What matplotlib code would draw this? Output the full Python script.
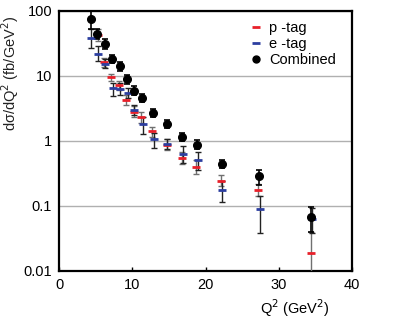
import matplotlib
matplotlib.use("Agg")
import matplotlib.pyplot as plt
from matplotlib.lines import Line2D

plt.rcParams['font.family'] = ['Liberation Sans', 'DejaVu Sans']

# p -tag (red)
p_q2 = [5.3, 6.2, 7.1, 8.2, 9.2, 10.25, 11.2, 12.7, 14.8, 16.8, 18.7, 22.1, 27.1, 34.4]
p_val = [42, 16.2, 9.4, 7.1, 4.3, 2.8, 2.3, 1.39, 0.87, 0.547, 0.40, 0.245, 0.176, 0.019]
p_lo = [34, 13.5, 8.2, 6.0, 3.6, 2.3, 1.9, 1.15, 0.72, 0.44, 0.31, 0.20, 0.14, 0.005]
p_hi = [53, 19, 10.7, 8.3, 5.1, 3.4, 2.8, 1.65, 1.05, 0.68, 0.50, 0.30, 0.22, 0.04]

# e -tag (blue)
e_q2 = [4.3, 5.35, 6.3, 7.35, 8.3, 9.4, 10.3, 11.5, 13.0, 14.8, 16.9, 19.0, 22.3, 27.4, 34.5]
e_val = [38, 21.8, 15.3, 6.5, 6.2, 5.5, 3.0, 1.83, 1.07, 0.90, 0.616, 0.505, 0.176, 0.091, 0.062]
e_lo = [26.8, 17, 13, 4.8, 5.1, 4.6, 2.5, 1.28, 0.77, 0.75, 0.45, 0.36, 0.114, 0.039, 0.038]
e_hi = [52.6, 28.2, 18, 7.7, 7.7, 6.5, 3.5, 2.31, 1.31, 1.08, 0.82, 0.68, 0.24, 0.14, 0.093]

# combined (black)
c_q2 = [4.3, 5.25, 6.26, 7.3, 8.3, 9.33, 10.3, 11.3, 12.8, 14.8, 16.85, 18.85, 22.2, 27.3, 34.45]
c_val = [75, 44, 31, 18.3, 14.1, 8.8, 5.9, 4.5, 2.7, 1.78, 1.14, 0.87, 0.44, 0.286, 0.067]
c_lo = [52.6, 36, 26, 15.5, 12, 7.5, 5.0, 3.9, 2.35, 1.55, 0.98, 0.74, 0.38, 0.21, 0.04]
c_hi = [120, 53, 37, 21, 16.5, 10.3, 6.9, 5.2, 3.1, 2.05, 1.33, 1.02, 0.50, 0.35, 0.097]


def errs(val, lo, hi):
    return [[v - l for v, l in zip(val, lo)], [h - v for v, h in zip(val, hi)]]


fig = plt.figure(figsize=(4.09, 3.18), dpi=100)
ax = fig.add_axes([0.1443, 0.1478, 0.7163, 0.819])

ax.errorbar(p_q2, p_val, yerr=errs(p_val, p_lo, p_hi), fmt='none',
            ecolor='#707070', elinewidth=1.0, capsize=2, capthick=1.0, zorder=3)
ax.errorbar(e_q2, e_val, yerr=errs(e_val, e_lo, e_hi), fmt='none',
            ecolor='#222222', elinewidth=1.0, capsize=2, capthick=1.0, zorder=3)
ax.errorbar(c_q2, c_val, yerr=errs(c_val, c_lo, c_hi), fmt='none',
            ecolor='black', elinewidth=1.2, capsize=2, capthick=1.2, zorder=4)

ax.plot(p_q2, p_val, ls='none', marker='_', ms=6, mew=2, color='#e8202a', zorder=5)
ax.plot(e_q2, e_val, ls='none', marker='_', ms=6, mew=2, color='#2c3ea0', zorder=5)
ax.plot(c_q2, c_val, ls='none', marker='o', ms=5.5, color='black', zorder=6)

ax.set_yscale('log')
ax.set_ylim(0.01, 100)
ax.set_xlim(0, 40)
ax.set_xticks([0, 10, 20, 30, 40])
ax.set_yticks([0.01, 0.1, 1, 10, 100])
ax.set_yticklabels(['0.01', '0.1', '1', '10', '100'])
ax.minorticks_off()
ax.tick_params(axis='x', direction='in', length=3, width=1, labelsize=10.5, pad=5)
ax.tick_params(axis='y', length=0, labelsize=10.5, pad=5)
ax.grid(axis='y', color='#b0b0b0', lw=1)
ax.set_axisbelow(True)
for s in ax.spines.values():
    s.set_linewidth(1.6)

ax.set_ylabel('dσ/dQ$^2$ (fb/GeV$^2$)', fontsize=10.5, color='#222222')
ax.yaxis.set_label_coords(-0.13, 0.76)
ax.set_xlabel('Q$^2$ (GeV$^2$)', fontsize=10.5)
ax.xaxis.set_label_coords(0.805, -0.1)

handles = [
    Line2D([], [], ls='none', marker='_', ms=6, mew=2, color='#e8202a'),
    Line2D([], [], ls='none', marker='_', ms=6, mew=2, color='#2c3ea0'),
    Line2D([], [], ls='none', marker='o', ms=5, color='black'),
]
ax.legend(handles, ['p -tag', 'e -tag', 'Combined'], loc='upper right',
          bbox_to_anchor=(0.99, 1.01), frameon=False, fontsize=10.5,
          handlelength=0.8, handletextpad=0.5, labelspacing=0.15)

fig.savefig('out.png', dpi=100)
